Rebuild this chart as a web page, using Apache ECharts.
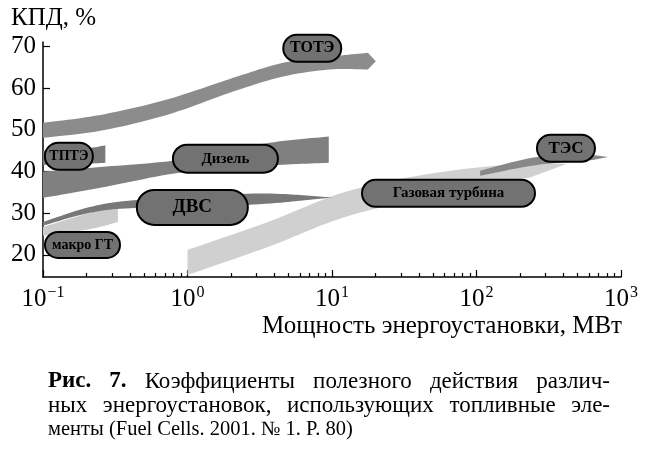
<!DOCTYPE html>
<html><head><meta charset="utf-8">
<script src="https://cdn.jsdelivr.net/npm/echarts@6/dist/echarts.min.js"></script>
<style>html,body{margin:0;padding:0;background:#fff}#c{width:650px;height:450px}</style>
</head><body><div id="c"></div>
<script>
// ---------- data ----------
const xMajorTicks = [0.1, 1, 10, 100, 1000];
const xMinorTicks = [0.2,0.3,0.4,0.5,0.6,0.7,0.8,0.9, 2,3,4,5,6,7,8,9, 20,30,40,50,60,70,80,90, 200,300,400,500,600,700,800,900];
const yTicks = [20, 30, 40, 50, 60, 70];

// ТОТЭ band
const sofcX    = [0.1, 0.25, 0.72, 2.07, 4.58, 9.7, 17.7];
const sofcLow  = [48.1, 49.8, 53.6, 59.2, 62.8, 64.5, 64.5];
const sofcHigh = [51.7, 53.6, 57.3, 62.5, 66.1, 67.6, 68.5];
const sofcTip  = [20.1, 66.5];
// ТПТЭ band
const pafcX    = [0.1, 0.2, 0.27];
const pafcLow  = [41.6, 41.9, 42.1];
const pafcHigh = [45.0, 45.6, 46.3];
// Дизель band
const dieselX    = [0.1, 0.25, 0.79, 1.85, 4.23, 9.5];
const dieselLow  = [33.7, 36.1, 39.5, 40.7, 41.6, 42.1];
const dieselHigh = [40.0, 41.1, 42.6, 45.0, 47.2, 48.4];
// ДВС band
const iceX    = [0.1, 0.211, 0.447, 2.58, 6.0];
const iceLow  = [27.0, 30.1, 31.3, 32.0, 33.0];
const iceHigh = [27.9, 31.5, 33.2, 34.7, 34.4];
const iceTip  = [10.0, 33.8];
// макро ГТ band
const mgtX    = [0.1, 0.211, 0.33];
const mgtLow  = [24.6, 26.2, 27.9];
const mgtHigh = [26.7, 30.1, 31.5];
// Газовая турбина band
const gtX    = [1.0, 3.6, 12.3, 47.6, 234];
const gtLow  = [15.2, 21.9, 29.1, 34.0, 38.6];
const gtHigh = [21.2, 27.9, 35.1, 39.5, 42.3];
const gtTip  = [420, 41.8];
// ТЭС band
const tesX    = [106, 262, 640];
const tesLow  = [39.0, 41.6, 42.8];
const tesHigh = [40.2, 43.5, 44.0];
const tesTip  = [813, 43.5];

// labels (anchor in data coordinates)
const labelNames = ['ТОТЭ', 'ТПТЭ', 'Дизель', 'ДВС', 'макро ГТ', 'Газовая турбина', 'ТЭС'];
const labelX     = [7.3, 0.151, 1.83, 1.08, 0.1876, 64, 416];
const labelY     = [69.6, 43.7, 43.1, 31.4, 22.4, 34.8, 45.6];

const captionLines = [
  'Рис. 7. Коэффициенты полезного действия различ-',
  'ных энергоустановок, использующих топливные эле-',
  'менты (Fuel Cells. 2001. № 1. P. 80)'
];

// ---------- styles ----------
const SERIF = '"Liberation Serif", "DejaVu Serif", serif';
const pillStyle = {
  'ТОТЭ': {w: 58, h: 27, fs: 16},
  'ТПТЭ': {w: 48, h: 27, fs: 14},
  'Дизель': {w: 105, h: 28, fs: 15},
  'ДВС': {w: 111, h: 35, fs: 19},
  'макро ГТ': {w: 75, h: 26, fs: 14},
  'Газовая турбина': {w: 173, h: 27, fs: 15},
  'ТЭС': {w: 58, h: 27, fs: 17}
};

function spline(pts, seg) {
  if (pts.length < 3) return pts.slice();
  const out = [];
  for (let i = 0; i < pts.length - 1; i++) {
    const p0 = pts[Math.max(i - 1, 0)], p1 = pts[i], p2 = pts[i + 1], p3 = pts[Math.min(i + 2, pts.length - 1)];
    for (let t = 0; t < seg; t++) {
      const s = t / seg, s2 = s * s, s3 = s2 * s;
      const f = k => 0.5 * (2 * p1[k] + (-p0[k] + p2[k]) * s + (2 * p0[k] - 5 * p1[k] + 4 * p2[k] - p3[k]) * s2 + (-p0[k] + 3 * p1[k] - 3 * p2[k] + p3[k]) * s3);
      out.push([f(0), f(1)]);
    }
  }
  out.push(pts[pts.length - 1]);
  return out;
}

function band(name, xs, lo, hi, tip, color, z) {
  return {
    type: 'custom', name: name, silent: true, z: z, clip: true,
    data: xs.map((x, i) => [x, lo[i], hi[i]]),
    encode: {x: 0, y: [1, 2]},
    renderItem: function (params, api) {
      if (params.dataIndex !== 0) return null;
      const top = spline(xs.map((x, i) => api.coord([x, hi[i]])), 12);
      const bot = spline(xs.map((x, i) => api.coord([x, lo[i]])), 12);
      let pts = top;
      if (tip) pts = pts.concat([api.coord(tip)]);
      pts = pts.concat(bot.reverse());
      return {type: 'polygon', shape: {points: pts}, style: {fill: color}};
    }
  };
}

const chart = echarts.init(document.getElementById('c'));

// caption with justified lines
const measureCtx = document.createElement('canvas').getContext('2d');
const capFontSizes = [23, 23, 20.5];
const capLeft = 48, capRight = 610, capTop = [370, 394, 419];
const captionElements = [];
captionLines.forEach((line, li) => {
  const fsz = capFontSizes[li];
  const words = line.split(' ');
  const weights = words.map((w, wi) => (li === 0 && wi < 2 ? 'bold' : 'normal'));
  const widths = words.map((w, wi) => { measureCtx.font = weights[wi] + ' ' + fsz + 'px ' + SERIF; return measureCtx.measureText(w).width; });
  const total = widths.reduce((a, b) => a + b, 0);
  measureCtx.font = fsz + 'px ' + SERIF;
  const spaceW = measureCtx.measureText(' ').width;
  const gap = li < captionLines.length - 1 ? (capRight - capLeft - total) / (words.length - 1) : spaceW;
  let x = capLeft;
  words.forEach((w, wi) => {
    captionElements.push({type: 'text', left: x, top: capTop[li], silent: true,
      style: {text: w, fontFamily: SERIF, fontSize: fsz, fontWeight: weights[wi], fill: '#000'}});
    x += widths[wi] + gap;
  });
});

const option = {
  animation: false,
  backgroundColor: '#fff',
  grid: {left: 43, right: 29, top: 42, bottom: 173, outerBoundsMode: 'none', containLabel: false},
  xAxis: [{
    type: 'log', logBase: 10, min: 0.1, max: 1000, position: 'bottom',
    axisLine: {show: true, lineStyle: {color: '#000', width: 1.5}},
    axisTick: {show: true, inside: true, length: 7, lineStyle: {color: '#000', width: 1.2}},
    splitLine: {show: false}, minorTick: {show: false},
    axisLabel: {
      margin: 8, color: '#000',
      formatter: v => '{b|10}{s|' + String(Math.round(Math.log10(v))).replace('-', '−') + '}',
      rich: {
        b: {fontFamily: SERIF, fontSize: 25, color: '#000', lineHeight: 27, verticalAlign: 'bottom'},
        s: {fontFamily: SERIF, fontSize: 16, color: '#000', lineHeight: 27, verticalAlign: 'top', padding: [0, 0, 12, 1]}
      }
    }
  }, {
    type: 'log', logBase: 10, min: 0.1, max: 1000, position: 'bottom', gridIndex: 0,
    axisLine: {show: false},
    axisTick: {show: true, inside: true, length: 4, customValues: xMinorTicks, lineStyle: {color: '#000', width: 1.2}},
    axisLabel: {show: false}, splitLine: {show: false}
  }],
  yAxis: {
    type: 'value', min: 14.7, max: 71.1,
    axisLine: {show: true, lineStyle: {color: '#000', width: 1.5}},
    axisTick: {show: true, inside: true, length: 7, customValues: yTicks, lineStyle: {color: '#000', width: 1.2}},
    axisLabel: {customValues: yTicks, margin: 7, color: '#000', fontFamily: SERIF, fontSize: 25},
    splitLine: {show: false}
  },
  graphic: [
    {type: 'text', left: 11, top: 6, silent: true, style: {text: 'КПД, %', fontFamily: SERIF, fontSize: 25, fill: '#000'}},
    {type: 'text', right: 28, top: 314, silent: true, style: {text: 'Мощность энергоустановки, МВт', fontFamily: SERIF, fontSize: 25, fill: '#000'}}
  ].concat(captionElements),
  series: [
    band('ТОТЭ', sofcX, sofcLow, sofcHigh, sofcTip, '#8c8c8c', 2),
    band('Дизель', dieselX, dieselLow, dieselHigh, null, '#808080', 2),
    band('ТПТЭ', pafcX, pafcLow, pafcHigh, null, '#7a7a7a', 3),
    band('макро ГТ', mgtX, mgtLow, mgtHigh, null, '#cbcbcb', 2),
    band('Газовая турбина', gtX, gtLow, gtHigh, gtTip, '#d0d0d0', 2),
    band('ДВС', iceX, iceLow, iceHigh, iceTip, '#787878', 3),
    band('ТЭС', tesX, tesLow, tesHigh, tesTip, '#888888', 3),
    {
      type: 'custom', name: 'labels', silent: true, z: 10, clip: false,
      data: labelNames.map((n, i) => [labelX[i], labelY[i], n]),
      encode: {x: 0, y: 1},
      renderItem: function (params, api) {
        const name = labelNames[params.dataIndex];
        const st = pillStyle[name];
        const c = api.coord([api.value(0), api.value(1)]);
        return {type: 'group', children: [
          {type: 'rect', shape: {x: c[0] - st.w / 2, y: c[1] - st.h / 2, width: st.w, height: st.h, r: st.h / 2},
           style: {fill: '#727272', stroke: '#000', lineWidth: 2}},
          {type: 'text', style: {text: name, x: c[0], y: c[1], align: 'center', verticalAlign: 'middle',
           fontFamily: SERIF, fontWeight: 'bold', fontSize: st.fs, fill: '#000'}}
        ]};
      }
    }
  ]
};
chart.setOption(option);
</script></body></html>
